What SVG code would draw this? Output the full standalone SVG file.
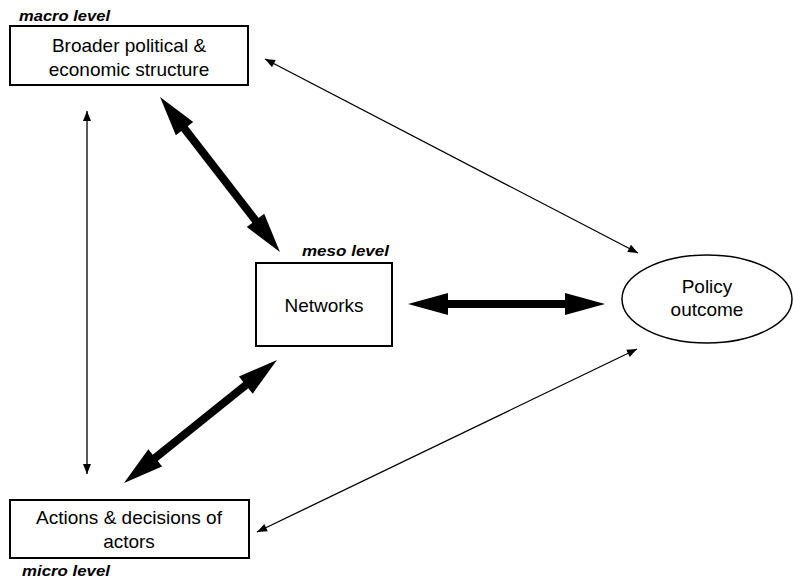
<svg xmlns="http://www.w3.org/2000/svg" width="793" height="583" viewBox="0 0 793 583">
<style>
.box{fill:#fff;stroke:#000;stroke-width:2}
.t{font-family:"Liberation Sans",Arial,sans-serif;font-size:19px;fill:#000;text-anchor:middle}
.lv{font-family:"Liberation Sans",Arial,sans-serif;font-size:14px;font-weight:bold;font-style:italic;fill:#000}
.thin{stroke:#000;stroke-width:1.3;fill:none;marker-start:url(#ah);marker-end:url(#ah)}
.thick{stroke:#000;stroke-width:8;fill:none;marker-start:url(#AH);marker-end:url(#AH)}
</style>
<defs>
<marker id="ah" markerUnits="userSpaceOnUse" markerWidth="11" markerHeight="9" refX="10" refY="4" orient="auto-start-reverse" overflow="visible">
<path d="M0,0 L10,4 L0,8 z" fill="#000"/>
</marker>
<marker id="AH" markerUnits="userSpaceOnUse" markerWidth="42" markerHeight="24" refX="10" refY="11" orient="auto-start-reverse" overflow="visible">
<path d="M0,0 L40,11 L0,22 z" fill="#000"/>
</marker>
</defs>
<rect width="793" height="583" fill="#fff"/>
<g id="connectors">
<line class="thin" x1="87" y1="111" x2="87" y2="474"/>
<line class="thin" x1="265" y1="59" x2="638" y2="253"/>
<line class="thin" x1="637" y1="349" x2="257" y2="532"/>
<line class="thick" x1="178.4" y1="120.7" x2="261.6" y2="228.3"/>
<line class="thick" x1="438" y1="304" x2="575" y2="304"/>
<line class="thick" x1="253.6" y1="378.8" x2="147.4" y2="464.2"/>
</g>
<g id="macro">
<rect class="box" x="10" y="26" width="238" height="59"/>
<text class="t" x="129" y="52">Broader political &amp;</text>
<text class="t" x="129" y="76">economic structure</text>
<text class="lv" x="19" y="21" textLength="91" lengthAdjust="spacingAndGlyphs">macro level</text>
</g>
<g id="meso">
<rect class="box" x="256" y="263" width="136" height="83"/>
<text class="t" x="324" y="312">Networks</text>
<text class="lv" x="302" y="256" textLength="87" lengthAdjust="spacingAndGlyphs">meso level</text>
</g>
<g id="policy">
<ellipse cx="707" cy="299" rx="85" ry="44" fill="#fff" stroke="#000" stroke-width="1.5"/>
<text class="t" x="707" y="293">Policy</text>
<text class="t" x="707" y="316">outcome</text>
</g>
<g id="micro">
<rect class="box" x="10" y="500" width="239" height="58"/>
<text class="t" x="129" y="524">Actions &amp; decisions of</text>
<text class="t" x="129" y="548">actors</text>
<text class="lv" x="22" y="576" textLength="88" lengthAdjust="spacingAndGlyphs">micro level</text>
</g>
</svg>
